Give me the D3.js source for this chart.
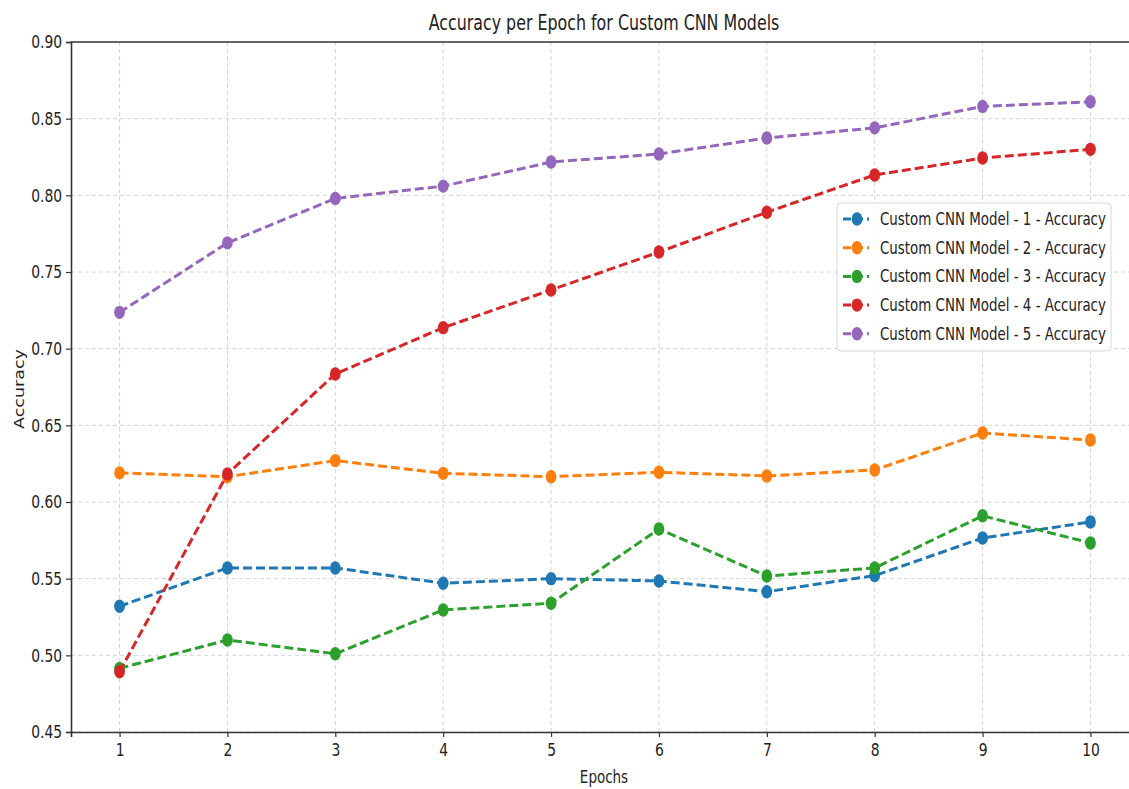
<!DOCTYPE html>
<html>
<head>
<meta charset="utf-8">
<script src="https://cdn.jsdelivr.net/npm/d3@7"></script>
<style>
  body { margin:0; background:#fff; }
  svg { display:block; font-family:"DejaVu Sans", sans-serif; }
</style>
</head>
<body>
<div id="chart"></div>
<script>
const epochs = [1,2,3,4,5,6,7,8,9,10];
const model1 = [0.532,0.557,0.557,0.547,0.550,0.5485,0.5415,0.552,0.5765,0.587];
const model2 = [0.619,0.6165,0.627,0.6187,0.6165,0.6194,0.617,0.6209,0.645,0.6404];
const model3 = [0.4915,0.510,0.501,0.5296,0.534,0.5824,0.5517,0.557,0.591,0.5733];
const model4 = [0.4893,0.6183,0.6835,0.7137,0.7383,0.763,0.789,0.8133,0.8243,0.830];
const model5 = [0.7237,0.769,0.798,0.806,0.8217,0.827,0.8374,0.844,0.858,0.861];
const seriesNames = ["Custom CNN Model - 1 - Accuracy","Custom CNN Model - 2 - Accuracy","Custom CNN Model - 3 - Accuracy","Custom CNN Model - 4 - Accuracy","Custom CNN Model - 5 - Accuracy"];
const seriesValues = [model1, model2, model3, model4, model5];
const colors = ["#1f77b4","#ff7f0e","#2ca02c","#d62728","#9467bd"];
const yTicks = [0.45,0.50,0.55,0.60,0.65,0.70,0.75,0.80,0.85,0.90];

const W = 1129, H = 789;
const SX = 0.77; // text looks horizontally squeezed in the reference

const svg = d3.select("#chart").append("svg").attr("width", W).attr("height", H);

const x = d3.scaleLinear().domain([0.55, 10.45]).range([71, 1139]);
const y = d3.scaleLinear().domain([0.45, 0.90]).range([732, 42]);

// grid
const grid = svg.append("g");
grid.selectAll("line.gx").data(epochs).enter().append("line")
  .attr("x1", d=>x(d)).attr("x2", d=>x(d)).attr("y1", y(0.90)).attr("y2", y(0.45))
  .attr("stroke","#cfcfcf").attr("stroke-width",0.9).attr("stroke-dasharray","4,3");
grid.selectAll("line.gy").data(yTicks).enter().append("line")
  .attr("x1", x(0.55)).attr("x2", x(10.45)).attr("y1", d=>y(d)).attr("y2", d=>y(d))
  .attr("stroke","#cfcfcf").attr("stroke-width",0.9).attr("stroke-dasharray","4,3");

// lines + markers
const line = d3.line().x((d,i)=>x(epochs[i])).y(d=>y(d));
seriesValues.forEach((vals, k) => {
  const g = svg.append("g");
  g.append("path").datum(vals).attr("d", line)
    .attr("fill","none").attr("stroke", colors[k]).attr("stroke-width",3)
    .attr("stroke-dasharray","9,4");
  g.selectAll("ellipse").data(vals).enter().append("ellipse")
    .attr("cx",(d,i)=>x(epochs[i])).attr("cy", d=>y(d))
    .attr("rx",5.4).attr("ry",6.7).attr("fill", colors[k]);
});

// axes
const xAxis = svg.append("g").attr("transform", `translate(0,${y(0.45)})`)
  .call(d3.axisBottom(x).tickValues(epochs).tickSize(5).tickPadding(6).tickFormat(d3.format("d")));
xAxis.select(".domain").attr("stroke","#333").attr("stroke-width",1.6);
xAxis.selectAll(".tick line").attr("stroke","#333").attr("stroke-width",1.2);
xAxis.selectAll(".tick text").attr("font-size",18).attr("fill","#222")
  .attr("font-family","DejaVu Sans").attr("transform",`scale(${SX},1)`);

const yAxis = svg.append("g").attr("transform", `translate(${x(0.55)},0)`)
  .call(d3.axisLeft(y).tickValues(yTicks).tickSize(5).tickFormat(d3.format(".2f")));
yAxis.select(".domain").attr("stroke","#333").attr("stroke-width",1.6);
yAxis.selectAll(".tick line").attr("stroke","#333").attr("stroke-width",1.2);
yAxis.selectAll(".tick text").attr("font-size",18).attr("fill","#222")
  .attr("font-family","DejaVu Sans").attr("x", -9/SX).attr("transform",`scale(${SX},1)`);

// top spine
svg.append("line").attr("x1", x(0.55)).attr("x2", x(10.45)).attr("y1", y(0.90)).attr("y2", y(0.90))
  .attr("stroke","#333").attr("stroke-width",1.6);

// title and labels
svg.append("text").attr("transform",`translate(604,30) scale(${SX},1)`)
  .attr("text-anchor","middle").attr("font-size",20.6).attr("fill","#222")
  .text("Accuracy per Epoch for Custom CNN Models");
svg.append("text").attr("transform",`translate(604,783) scale(${SX},1)`)
  .attr("text-anchor","middle").attr("font-size",17.5).attr("fill","#222").text("Epochs");
svg.append("text").attr("transform",`translate(24,389) rotate(-90) scale(1,${SX})`)
  .attr("text-anchor","middle").attr("font-size",17.5).attr("fill","#222").text("Accuracy");

// legend
const lg = svg.append("g").attr("transform","translate(837,203)");
lg.append("rect").attr("width",274).attr("height",148).attr("rx",4)
  .attr("fill","#fff").attr("fill-opacity",0.85).attr("stroke","#d8d8d8");
seriesNames.forEach((name, k) => {
  const cy = 16 + k*28.7;
  lg.append("line").attr("x1",6).attr("x2",32).attr("y1",cy).attr("y2",cy)
    .attr("stroke",colors[k]).attr("stroke-width",3).attr("stroke-dasharray","8,4");
  lg.append("ellipse").attr("cx",20).attr("cy",cy).attr("rx",5.4).attr("ry",6.7).attr("fill",colors[k]);
  lg.append("text").attr("transform",`translate(43,${cy+6}) scale(0.775,1)`)
    .attr("font-size",17.3).attr("fill","#222").text(name);
});
</script>
</body>
</html>
